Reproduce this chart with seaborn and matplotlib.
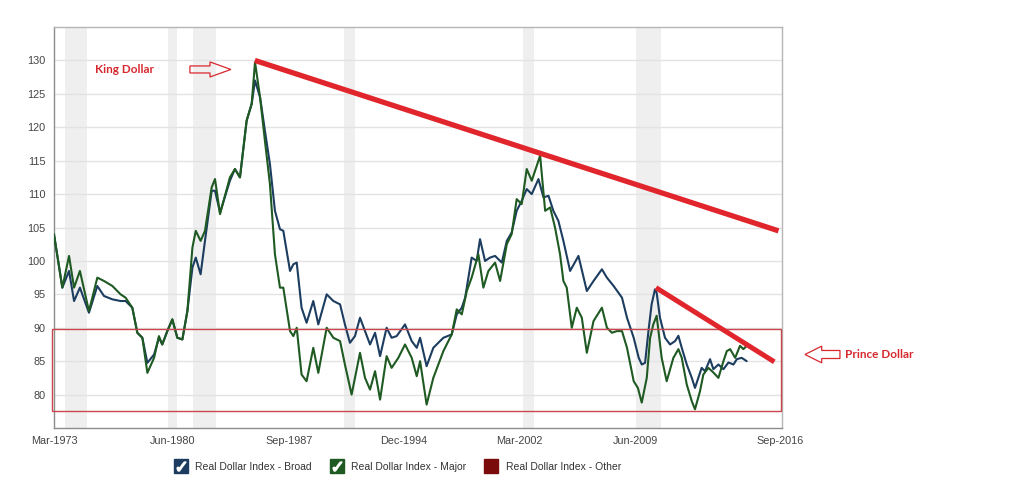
import matplotlib
matplotlib.use('Agg')
import matplotlib.pyplot as plt
import seaborn as sns
import pandas as pd
from matplotlib.patches import Rectangle, FancyArrow
from matplotlib.lines import Line2D

# ---------------- data ----------------
broad_years = [1973.17, 1973.67, 1974.07, 1974.37, 1974.72, 1975.26, 1975.76, 1976.16, 1976.66, 1977.15,
               1977.45, 1977.85, 1978.15, 1978.45, 1978.75, 1979.15, 1979.44, 1979.64, 1979.94, 1980.24,
               1980.54, 1980.84, 1981.14, 1981.44, 1981.64, 1981.93, 1982.19, 1982.59, 1982.79, 1983.09,
               1983.68, 1983.98, 1984.28, 1984.68, 1984.98, 1985.18, 1985.48, 1985.77, 1986.07, 1986.37,
               1986.67, 1986.87, 1987.27, 1987.47, 1987.67, 1987.96, 1988.26, 1988.66, 1988.96, 1989.46,
               1989.86, 1990.26, 1990.55, 1990.85, 1991.15, 1991.45, 1991.75, 1992.05, 1992.35, 1992.65,
               1993.04, 1993.34, 1993.64, 1994.14, 1994.54, 1994.84, 1995.04, 1995.43, 1995.83, 1996.43,
               1996.93, 1997.23, 1997.53, 1997.73, 1998.12, 1998.42, 1998.62, 1998.92, 1999.22, 1999.52,
               1999.92, 2000.22, 2000.51, 2000.81, 2001.11, 2001.41, 2001.71, 2002.11, 2002.41, 2002.71,
               2003.0, 2003.3, 2003.6, 2004.0, 2004.5, 2005.0, 2005.4, 2005.9, 2006.2, 2006.6,
               2007.1, 2007.4, 2007.8, 2008.1, 2008.28, 2008.48, 2008.68, 2008.87, 2009.07, 2009.17,
               2009.37, 2009.67, 2009.97, 2010.27, 2010.47, 2010.67, 2010.97, 2011.27, 2011.46, 2011.66,
               2011.86, 2012.06, 2012.36, 2012.56, 2012.86, 2013.16, 2013.46, 2013.76, 2013.96, 2014.25,
               2014.55]
broad_values = [104.0, 96.0, 98.5, 94.0, 96.0, 92.25, 96.25, 94.75, 94.25, 94.0,
                94.0, 93.0, 89.25, 88.5, 84.75, 86.0, 88.5, 87.5, 89.5, 91.25,
                88.5, 88.25, 92.5, 99.0, 100.5, 98.0, 103.0, 110.5, 110.5, 107.25,
                112.0, 113.75, 112.5, 121.0, 123.5, 127.0, 124.5, 119.5, 114.5, 107.5,
                104.75, 104.5, 98.5, 99.5, 99.75, 93.0, 90.75, 94.0, 90.5, 95.0,
                94.0, 93.5, 90.5, 87.75, 88.75, 91.5, 89.5, 87.5, 89.25, 85.75,
                90.0, 88.5, 88.75, 90.5, 88.0, 87.0, 88.5, 84.25, 87.0, 88.5,
                89.0, 92.0, 93.0, 94.5, 100.5, 100.0, 103.25, 100.0, 100.5, 100.75,
                99.75, 103.0, 104.25, 107.5, 109.0, 110.75, 110.0, 112.25, 109.5, 109.75,
                107.5, 106.0, 103.0, 98.5, 100.75, 95.5, 97.0, 98.75, 97.5, 96.25,
                94.5, 91.5, 88.5, 85.5, 84.5, 84.75, 89.5, 93.5, 95.75, 95.25,
                91.5, 88.5, 87.5, 88.0, 88.8, 87.0, 84.5, 82.5, 81.0, 82.5,
                84.0, 83.5, 85.3, 83.8, 84.5, 83.8, 84.8, 84.5, 85.3, 85.5,
                85.0]

major_years = [1973.17, 1973.67, 1974.07, 1974.37, 1974.72, 1975.26, 1975.76, 1976.16, 1976.66, 1977.15,
               1977.45, 1977.85, 1978.15, 1978.45, 1978.75, 1979.15, 1979.44, 1979.64, 1979.94, 1980.24,
               1980.54, 1980.84, 1981.14, 1981.44, 1981.64, 1981.93, 1982.19, 1982.59, 1982.79, 1983.09,
               1983.68, 1983.98, 1984.28, 1984.68, 1984.98, 1985.18, 1985.48, 1985.77, 1986.07, 1986.37,
               1986.67, 1986.87, 1987.27, 1987.47, 1987.67, 1987.96, 1988.26, 1988.66, 1988.96, 1989.46,
               1989.86, 1990.26, 1990.55, 1990.95, 1991.45, 1991.75, 1992.05, 1992.35, 1992.65, 1993.04,
               1993.34, 1993.74, 1994.14, 1994.54, 1994.84, 1995.04, 1995.43, 1995.83, 1996.43, 1996.93,
               1997.23, 1997.53, 1997.83, 1998.12, 1998.52, 1998.82, 1999.12, 1999.52, 1999.82, 2000.22,
               2000.51, 2000.81, 2001.11, 2001.41, 2001.71, 2002.21, 2002.51, 2002.81, 2003.1, 2003.4,
               2003.6, 2003.8, 2004.1, 2004.4, 2004.7, 2005.0, 2005.4, 2005.9, 2006.2, 2006.5,
               2006.8, 2007.1, 2007.4, 2007.8, 2008.05, 2008.28, 2008.58, 2008.78, 2008.97, 2009.17,
               2009.47, 2009.77, 2010.17, 2010.47, 2010.67, 2010.97, 2011.27, 2011.46, 2011.76, 2011.96,
               2012.26, 2012.56, 2012.86, 2013.16, 2013.36, 2013.56, 2013.86, 2014.15, 2014.35, 2014.55]
major_values = [104.0, 96.0, 100.75, 96.0, 98.5, 92.5, 97.5, 97.0, 96.25, 95.0,
                94.5, 93.0, 89.25, 88.5, 83.25, 85.5, 88.75, 87.5, 89.5, 91.25,
                88.5, 88.25, 92.5, 102.0, 104.5, 103.0, 104.5, 111.0, 112.25, 107.0,
                112.5, 113.75, 112.5, 121.0, 123.5, 129.75, 124.5, 118.0, 111.5, 101.0,
                96.0, 96.0, 89.5, 88.75, 90.0, 83.0, 82.0, 87.0, 83.25, 90.0,
                88.5, 88.0, 84.5, 80.0, 86.25, 82.5, 80.75, 83.5, 79.25, 85.75,
                84.0, 85.5, 87.5, 85.5, 82.75, 85.0, 78.5, 82.5, 86.5, 89.0,
                92.75, 92.0, 95.5, 97.5, 101.0, 96.0, 98.5, 99.75, 97.0, 102.5,
                104.0, 109.25, 108.5, 113.75, 112.0, 115.75, 107.5, 108.0, 105.0, 101.0,
                97.0, 96.0, 90.0, 93.0, 91.5, 86.25, 91.0, 93.0, 90.0, 89.25,
                89.5, 89.5, 87.0, 82.0, 81.0, 78.8, 82.5, 88.5, 90.5, 91.8,
                85.5, 82.0, 85.5, 86.8, 85.5, 81.5, 79.0, 77.8, 80.5, 83.0,
                84.0, 83.3, 82.5, 85.0, 86.5, 86.8, 85.5, 87.3, 86.8, 87.3]

recession_start = [1973.83, 1980.0, 1981.5, 1990.5, 2001.17, 2007.92]
recession_end = [1975.17, 1980.5, 1982.83, 1991.17, 2001.83, 2009.42]

x_tick_positions = [1973.17, 1980.28, 1987.21, 1994.08, 2000.95, 2007.88, 2016.54]
x_tick_labels = ['Mar-1973', 'Jun-1980', 'Sep-1987', 'Dec-1994', 'Mar-2002', 'Jun-2009', 'Sep-2016']
y_ticks = [80, 85, 90, 95, 100, 105, 110, 115, 120, 125, 130]

king_line_x = [1985.17, 2016.45]
king_line_y = [130.0, 104.5]
prince_line_x = [2009.13, 2016.2]
prince_line_y = [96.0, 84.9]
box_low, box_high = 77.6, 89.8

series_labels = ['Real Dollar Index - Broad', 'Real Dollar Index - Major', 'Real Dollar Index - Other']
series_colors = ['#1c3d5f', '#1e5a22', '#7a0c0c']

# ---------------- style ----------------
sns.set_style('white')
plt.rcParams['font.family'] = ['Liberation Sans', 'DejaVu Sans']

RED = '#e0262c'
TXT_RED = '#d6282e'

fig = plt.figure(figsize=(10.24, 4.94), dpi=100)
ax = fig.add_axes([0.0527, 0.1336, 0.7110, 0.8117])

for s, e in zip(recession_start, recession_end):
    ax.axvspan(s, e, color='#efefef', lw=0, zorder=0)

ax.set_axisbelow(True)
ax.yaxis.grid(True, color='#e3e3e3', lw=1)
ax.xaxis.grid(False)

df_broad = pd.DataFrame({'year': broad_years, 'value': broad_values})
df_major = pd.DataFrame({'year': major_years, 'value': major_values})
sns.lineplot(data=df_broad, x='year', y='value', color=series_colors[0], lw=1.5, ax=ax, zorder=3)
sns.lineplot(data=df_major, x='year', y='value', color=series_colors[1], lw=1.5, ax=ax, zorder=4)

ax.set_xlim(1973.17, 2016.66)
ax.set_ylim(75, 135)

# trend lines
ax.plot(king_line_x, king_line_y, color=RED, lw=3.8, solid_capstyle='butt', zorder=6)
ax.plot(prince_line_x, prince_line_y, color=RED, lw=3.6, solid_capstyle='butt', zorder=6)

# red box
ax.add_patch(Rectangle((1973.05, box_low), 2016.62 - 1973.05, box_high - box_low,
                       fill=False, ec='#c9474c', lw=1.0, zorder=5, clip_on=False))

# annotations
ax.text(1975.62, 128.6, 'King Dollar', color=TXT_RED, fontsize=8.5, fontweight='bold',
        family=['Lato', 'DejaVu Sans'], va='center', ha='left', zorder=7)
ax.add_patch(FancyArrow(1981.29, 128.65, 2.45, 0, width=1.05, head_width=2.25, head_length=1.25,
                        length_includes_head=True, fill=False, ec=TXT_RED, lw=0.9, zorder=7))
ax.add_patch(FancyArrow(2020.12, 86.0, -2.09, 0, width=1.2, head_width=2.5, head_length=1.0,
                        length_includes_head=True, fill=False, ec=TXT_RED, lw=0.9, zorder=7,
                        clip_on=False))
ax.text(2020.45, 86.0, 'Prince Dollar', color=TXT_RED, fontsize=8.5, fontweight='bold',
        family=['Lato', 'DejaVu Sans'], va='center', ha='left', zorder=7, clip_on=False)

# axes
ax.set_xticks(x_tick_positions)
ax.set_xticklabels(x_tick_labels)
ax.set_yticks(y_ticks)
ax.set_xlabel('')
ax.set_ylabel('')
ax.tick_params(axis='both', length=0, labelsize=7.8, colors='#444444')
ax.tick_params(axis='y', pad=6)
ax.tick_params(axis='x', pad=6)
for side in ['top', 'right']:
    ax.spines[side].set_color('#b5b5b5')
    ax.spines[side].set_linewidth(1.0)
for side in ['left', 'bottom']:
    ax.spines[side].set_color('#8c8c8c')
    ax.spines[side].set_linewidth(1.0)

# legend with checkbox-like handles
handles = []
for i, c in enumerate(series_colors):
    box = Line2D([], [], marker='s', ms=10.5, color=c, ls='')
    if i < 2:
        chk = Line2D([], [], marker='$\\checkmark$', ms=6.5, color='white', ls='')
        handles.append((box, chk))
    else:
        handles.append(box)
leg = fig.legend(handles, series_labels, loc='center', bbox_to_anchor=(0.389, 0.0547), ncol=3,
                 frameon=False, fontsize=7.5, handlelength=1.0, handletextpad=0.88,
                 columnspacing=1.9)
for t in leg.get_texts():
    t.set_color('#333333')

fig.savefig('out.png', dpi=100)
